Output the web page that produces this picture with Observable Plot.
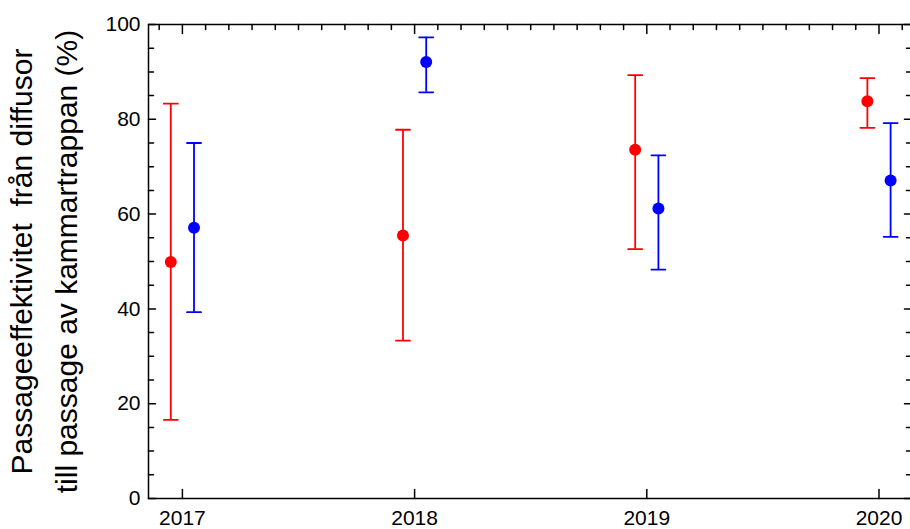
<!DOCTYPE html>
<html><head><meta charset="utf-8">
<script src="https://cdn.jsdelivr.net/npm/d3@7"></script>
<script src="https://cdn.jsdelivr.net/npm/@observablehq/plot@0.6"></script>
<style>html,body{margin:0;padding:0;background:#fff;overflow:hidden}</style>
</head><body><div id="chart"></div>
<script>
const years = [2017, 2018, 2019, 2020];
const redMean = [49.9, 55.5, 73.6, 83.8];
const redLow = [16.6, 33.3, 52.6, 78.2];
const redHigh = [83.3, 77.8, 89.3, 88.7];
const blueMean = [57.1, 92.1, 61.2, 67.1];
const blueLow = [39.3, 85.7, 48.3, 55.2];
const blueHigh = [75.0, 97.3, 72.4, 79.2];
const yMajorTicks = [0, 20, 40, 60, 80, 100];
const yMinorTicks = [5, 10, 15, 25, 30, 35, 45, 50, 55, 65, 70, 75, 85, 90, 95];
const xMinorTicks = d3.range(20169, 20202).map(v => v / 10).filter(v => !years.includes(v));
const yLabelLines = ["Passageeffektivitet\u00a0 från diffusor", "till passage av kammartrappan (%)"];

const dodge = 0.05;
const series = [
  {color: "#ff0000", shift: -dodge, mean: redMean, low: redLow, high: redHigh},
  {color: "#0000ff", shift: dodge, mean: blueMean, low: blueLow, high: blueHigh}
];

const stem = {draw(ctx, l) { ctx.moveTo(0, 0); ctx.lineTo(0, -l); }};
const cap = {draw(ctx, l) { ctx.moveTo(-l / 2, 0); ctx.lineTo(l / 2, 0); }};

const marks = [];
for (const s of series) {
  const rows = years.map((y, i) => ({x: y + s.shift, mean: s.mean[i], low: s.low[i], high: s.high[i]}));
  marks.push(Plot.ruleX(rows, {x: "x", y1: "low", y2: "high", stroke: s.color, strokeWidth: 1.8}));
  marks.push(Plot.vector(rows, {x: "x", y: "high", length: 14, anchor: "start", shape: cap, stroke: s.color, strokeWidth: 1.8}));
  marks.push(Plot.vector(rows, {x: "x", y: "low", length: 14, anchor: "start", shape: cap, stroke: s.color, strokeWidth: 1.8}));
  marks.push(Plot.dot(rows, {x: "x", y: "mean", r: 6, fill: s.color, stroke: null}));
}
marks.push(Plot.frame({stroke: "black", strokeWidth: 1.5}));
const tk = (data, opts) => Plot.vector(data, {anchor: "start", shape: stem, stroke: "black", strokeWidth: 1.5, ...opts});
marks.push(tk(yMajorTicks, {y: d => d, frameAnchor: "left", rotate: 90, length: 7}));
marks.push(tk(yMinorTicks, {y: d => d, frameAnchor: "left", rotate: 90, length: 5}));
marks.push(tk(yMajorTicks, {y: d => d, frameAnchor: "right", rotate: -90, length: 7}));
marks.push(tk(yMinorTicks, {y: d => d, frameAnchor: "right", rotate: -90, length: 5}));
marks.push(tk(years, {x: d => d, frameAnchor: "top", rotate: 180, length: 9}));
marks.push(tk(xMinorTicks, {x: d => d, frameAnchor: "top", rotate: 180, length: 5}));
marks.push(tk(years, {x: d => d, frameAnchor: "bottom", rotate: 0, length: 9}));
marks.push(Plot.axisY(yMajorTicks, {anchor: "left", tickSize: 0, tickPadding: 8, fontSize: 21, tickFormat: d => String(d), label: null, fill: "black"}));
marks.push(Plot.axisX(years, {anchor: "bottom", tickSize: 0, tickPadding: 12, fontSize: 21, tickFormat: d => String(d), label: null, fill: "black"}));
marks.push(Plot.text([yLabelLines.join("\n")], {text: d => d, frameAnchor: "left", dx: -108, rotate: -90, fontSize: 30, lineHeight: 1.5, textAnchor: "middle", lineAnchor: "middle", fill: "black"}));

const chart = Plot.plot({
  width: 910,
  height: 529,
  marginLeft: 148,
  marginRight: -1,
  marginTop: 24,
  marginBottom: 31,
  x: {type: "linear", domain: [2016.854, 2020.14]},
  y: {type: "linear", domain: [0, 100]},
  style: {fontFamily: "'Liberation Sans', Arial, sans-serif", background: "#fff", color: "black"},
  marks
});
document.getElementById("chart").appendChild(chart);
</script>
</body></html>
